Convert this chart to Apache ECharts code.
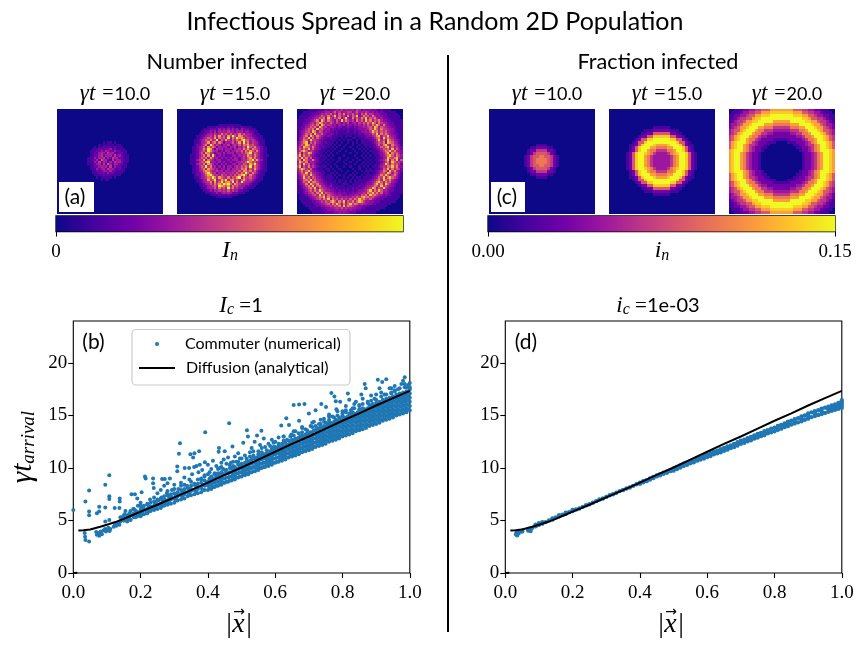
<!DOCTYPE html>
<html><head><meta charset="utf-8">
<script src="https://cdn.jsdelivr.net/npm/echarts@6/dist/echarts.min.js"></script>
<style>html,body{margin:0;padding:0;background:#fff}#c{width:865px;height:648px}</style>
</head><body><div id="c"></div>
<script>
const O='000000 000000 000000 000000 000000 000000';
const E='00000000 00000000 00000000 00000000 00000000 00000000';
const plasma=['#0d0887','#46039f','#7201a8','#9c179e','#bd3786','#d8576b','#ed7953','#fb9f3a','#fdca26','#f0f921'];
// colours of the ten levels used in the noisy "number infected" panels
const noisyLevels=['#0d0887','#46039f','#7201a8','#9c179e','#a82296','#bd3786','#d8576b','#ed7953','#fb9f3a','#f0f921'];
const ringLevels=['#0d0887','#46039f','#7201a8','#8a0da2','#9c179e','#a82296','#bd3786','#d8576b','#ed7953','#fdca26'];
const timeLabels=['10.0','15.0','20.0'];
const numberT10=[E,E,E,E,E,E,E,E,E,E,E,E,E,E,E,
"00000000 00000000 00000101 10100000 00000000 00000000",
"00000000 00000000 00010111 11011000 00000000 00000000",
"00000000 00000000 01011212 11211100 00000000 00000000",
"00000000 00000000 11122122 31211110 00000000 00000000",
"00000000 00000001 11223243 22322111 00000000 00000000",
"00000000 00000001 12134325 34212211 00000000 00000000",
"00000000 00000001 12235243 42523211 10000000 00000000",
"00000000 00000011 13243514 25342211 10000000 00000000",
"00000000 00000011 22416342 15243211 10000000 00000000",
"00000000 00000011 13252431 42534211 10000000 00000000",
"00000000 00000011 12342516 32432211 00000000 00000000",
"00000000 00000001 12234342 51322111 00000000 00000000",
"00000000 00000001 11323425 33212110 00000000 00000000",
"00000000 00000000 11212332 42211110 00000000 00000000",
"00000000 00000000 11122213 22111100 00000000 00000000",
"00000000 00000000 01111212 11111000 00000000 00000000",
"00000000 00000000 00101111 10100000 00000000 00000000",
"00000000 00000000 00001011 00000000 00000000 00000000",
E,E,E,E,E,E,E,E,E,E,E,E,E,E,E];
const numberT15=[E,E,E,E,E,E,E,
"00000000 00000000 00011111 11111000 00000000 00000000",
"00000000 00000011 11212112 12111211 11000000 00000000",
"00000000 00001112 22132323 23231322 21110000 00000000",
"00000000 00011223 24243435 34243423 32211000 00000000",
"00000000 00112234 35347464 63547463 43211100 00000000",
"00000000 01122345 37484638 59648745 43221110 00000000",
"00000000 01123465 48375649 37597864 54322110 00000000",
"00000000 11234657 45936485 36475896 64532111 00000000",
"00000000 11234583 67375243 46358495 73543211 00000000",
"00000000 12235739 63542435 24536476 85643211 00000000",
"00000001 12346385 75243342 43524364 96574321 10000000",
"00000001 12347598 42534233 32435475 84765321 10000000",
"00000001 12356497 53423243 23354637 58647421 10000000",
"00000001 12463875 42332423 34243546 79465321 10000000",
"00000011 12357483 94232312 23324354 86475321 11000000",
"00000011 12465738 53423232 32432453 68574321 10000000",
"00000011 13548375 42332223 23342354 67958431 10000000",
"00000011 12465893 33242322 32234546 97564321 10000000",
"00000011 13547386 42313232 23424365 48695321 10000000",
"00000001 12465957 34232413 32354657 59475321 10000000",
"00000001 12357486 53423324 24354768 36485321 10000000",
"00000001 12346875 43534243 34536487 57463211 10000000",
"00000001 12235796 45243534 45364759 64753211 00000000",
"00000000 12234689 64536453 53647896 37532111 00000000",
"00000000 11234576 97486547 46589375 56432110 00000000",
"00000000 01123485 69358694 78463685 45321110 00000000",
"00000000 01123457 38469578 59374954 43211100 00000000",
"00000000 00112346 47586989 64865343 32111000 00000000",
"00000000 00112234 56498768 47564332 21110000 00000000",
"00000000 00011234 46375649 57453422 11100000 00000000",
"00000000 00001123 24354546 35342211 10000000 00000000",
"00000000 00000111 22323434 32221110 00000000 00000000",
"00000000 00000001 11121212 11110000 00000000 00000000",
"00000000 00000000 00111111 10000000 00000000 00000000",
E,E,E,E,E,E,E];
const numberT20=[
"00000111 11212323 34546354 45365243 33232121 11100000",
"00011111 12233453 57463546 63574546 53423221 11111000",
"00111112 22354657 46375846 57463758 46534322 21111100",
"01111122 34576485 69475638 47693586 74853432 21111110",
"01111223 45768396 47583695 38475869 47685342 22111110",
"11112234 68397486 53749586 46385749 68476853 32211111",
"11122356 47985647 53642536 24536475 86974865 43221111",
"11123467 58397465 34243524 32435364 75869748 53221111",
"11224576 84975634 43232123 21323454 67598476 54322111",
"11235768 49675342 32121212 11223334 57697586 65432111",
"12346759 84763432 21211112 11212334 36978576 75432111",
"12357684 96574323 21211111 11112123 34769586 86432211",
"12468397 58643232 11111011 10111212 33568947 69543211",
"13476958 47532212 11101010 01101112 22357849 68653211",
"13587496 65322111 11010101 10010111 12236957 49764321",
"24689375 74321211 10101001 01010111 11235768 39875421",
"25769846 63221111 01010010 01001011 11124758 96486531",
"36498758 53212110 10100100 10010101 01123476 89574632",
"37586947 43211101 01001000 01001010 10112357 68495742",
"46897465 32111010 10010010 00100101 01111246 87968543",
"58376984 32110101 00100000 10010010 10111235 79486753",
"69486753 21111010 10000100 00100101 01011134 68975864",
"75968472 32101101 00010001 00010010 10101124 59768953",
"68397548 42111010 10010010 01001001 01011235 79486937",
"49768354 32110101 00100100 10010010 10101124 68397564",
"58496735 31101010 01000010 00100101 01011135 97486752",
"69375846 42111101 00100100 10001010 10111246 58796843",
"47986573 21110110 10010000 01001001 01011137 69485762",
"36857964 32111010 01001001 00100101 11112358 74968532",
"35769485 43211101 10100010 01010010 10112367 59847631",
"24687596 53221011 01010100 10100101 11123586 97468521",
"23596847 64321111 10100101 01011011 11234769 58976421",
"13478695 75432111 01011010 10101111 12346859 76853211",
"12476958 86432211 11010110 10111112 23468975 86743211",
"12358497 68543212 11101111 01111212 33579684 97532111",
"11246869 57854323 11111101 11112123 45687596 75432111",
"11235786 94765432 21211111 12121234 56984769 64321111",
"11124675 86976543 32121212 12123345 79586974 53221111",
"11123567 48695765 43232321 23234465 87968573 43211111",
"01112346 75968476 54343232 33454768 59786542 32211110",
"01111234 56879586 75645454 46576897 86754322 21111110",
"01111123 46758694 86757564 75869786 57432221 11111100",
"00111112 23465768 97586947 68579864 43322211 11111000",
"00011111 22345675 86974857 96875654 33221111 11100000",
"00001111 12233456 57684958 76543322 21111111 10000000",
"00000111 11122334 45657465 54433221 11111111 00000000",
"00000011 11112233 34545453 43322111 11111100 00000000",
"00000001 11111222 23343433 22211111 11110000 00000000"];
const fractionT10=[O,O,O,O,O,O,O,O,O,O,O,O,
'000000 000000 000011 110000 000000 000000',
'000000 000000 001122 221100 000000 000000',
'000000 000000 012244 442210 000000 000000',
'000000 000000 012455 554210 000000 000000',
'000000 000000 124556 655421 000000 000000',
'000000 000000 124566 665421 000000 000000',
'000000 000000 124566 665421 000000 000000',
'000000 000000 124556 655421 000000 000000',
'000000 000000 012455 554210 000000 000000',
'000000 000000 012244 442210 000000 000000',
'000000 000000 001122 221100 000000 000000',
'000000 000000 000011 110000 000000 000000',
O,O,O,O,O,O,O,O,O,O,O,O];
const fractionT15=[O,O,O,O,O,O,
'000000 000000 000111 111000 000000 000000',
'000000 000000 111222 222111 000000 000000',
'000000 000001 122555 555221 100000 000000',
'000000 000012 255888 888552 210000 000000',
'000000 000125 588999 999885 521000 000000',
'000000 001255 899999 999998 552100 000000',
'000000 011258 999877 778999 852110 000000',
'000000 012589 997766 667799 985210 000000',
'000000 012589 976644 446679 985210 000000',
'000000 125899 876433 334678 998521 000000',
'000000 125899 764333 333467 998521 000000',
'000000 125899 764333 333467 998521 000000',
'000000 125899 764333 333467 998521 000000',
'000000 125899 764333 333467 998521 000000',
'000000 125899 876433 334678 998521 000000',
'000000 012589 976644 446679 985210 000000',
'000000 012589 997766 667799 985210 000000',
'000000 011258 999877 778999 852110 000000',
'000000 001255 899999 999998 552100 000000',
'000000 000125 588999 999885 521000 000000',
'000000 000012 255888 888552 210000 000000',
'000000 000001 122555 555221 100000 000000',
'000000 000000 111222 222111 000000 000000',
'000000 000000 000111 111000 000000 000000',
O,O,O,O,O,O];
const fractionT20=[
'001112 233445 557777 777755 544332 211100',
'011123 344557 778888 888877 755443 321110',
'112233 455778 889999 999988 877554 332211',
'112344 557889 999999 999999 988755 443211',
'123445 778899 999777 777999 998877 544321',
'233457 789999 777666 666777 999987 754332',
'234577 899977 666444 444666 779998 775432',
'345578 999766 444333 333444 667999 875543',
'345789 997664 433222 222334 466799 987543',
'457899 976643 322222 222223 346679 998754',
'457899 766432 222111 111222 234667 998754',
'578999 764322 211100 001112 223467 999875',
'578997 644322 110000 000011 223446 799875',
'578997 643221 100000 000001 122346 799875',
'789997 643221 000000 000000 122346 799987',
'789976 432210 000000 000000 012234 679987',
'789976 432210 000000 000000 012234 679987',
'789976 432210 000000 000000 012234 679987',
'789976 432210 000000 000000 012234 679987',
'789976 432210 000000 000000 012234 679987',
'789976 432210 000000 000000 012234 679987',
'789997 643221 000000 000000 122346 799987',
'578997 643221 100000 000001 122346 799875',
'578997 644322 110000 000011 223446 799875',
'578999 764322 211100 001112 223467 999875',
'457899 766432 222111 111222 234667 998754',
'457899 976643 322222 222223 346679 998754',
'345789 997664 433222 222334 466799 987543',
'345578 999766 444333 333444 667999 875543',
'234577 899977 666444 444666 779998 775432',
'233457 789999 777666 666777 999987 754332',
'123445 778899 999777 777999 998877 544321',
'112344 557889 999999 999999 988755 443211',
'112233 455778 889999 999988 877554 332211',
'011123 344557 778888 888877 755443 321110',
'001112 233445 557777 777755 544332 211100'];
const diffusionX=[0.015,0.03,0.05,0.08,0.1,0.125,0.15,0.175,0.2,0.25,0.3,0.35,0.4,0.45,0.5,0.55,0.6,0.65,0.7,0.75,0.8,0.85,0.9,0.95,1.0];
const diffusionY=[4.05,4.07,4.15,4.4,4.6,4.85,5.15,5.5,5.85,6.5,7.2,7.9,8.6,9.35,10.05,10.8,11.55,12.3,13.0,13.75,14.5,15.2,15.95,16.65,17.35];
// rows: x followed by the y values of the dots in that column
const numericalDenseB=[
[.14,4.9,5.3],[.15,5.0,5.4],[.16,5.1,5.5],[.17,5.1,5.5,5.9],[.18,5.3,5.7,6.1],[.19,5.4,5.8],[.20,5.4,5.7,6.1,6.4],[.21,5.6,6.0,6.4],[.22,5.7,6.1,6.6],[.23,5.9,6.3,6.7],[.24,6.0,6.4,6.8],[.25,6.1,6.5,7.0],[.26,6.2,6.6,7.1],[.27,6.4,6.8,7.3],[.28,6.5,6.9,7.4,7.8],[.29,6.6,7.0,7.5],[.30,6.7,7.1,7.6,8.0],[.31,6.9,7.3,7.7],[.32,7.0,7.4,7.9,8.3],[.33,7.1,7.5,8.0,8.4],[.34,7.3,7.7,8.1],[.35,7.4,7.8,8.3,8.7],[.36,7.5,7.9,8.4],[.37,7.6,8.0,8.5,8.9],[.38,7.7,8.1,8.6,9.0],[.39,7.9,8.3,8.8,9.2],
[.145,5.1],[.165,5.3],[.185,5.5,5.95],[.205,5.8,6.25],[.225,5.9,6.35],[.245,6.2,6.7],[.265,6.4,6.9],[.285,6.7,7.2],[.305,6.9,7.4],[.325,7.2,7.7],[.345,7.5,8.0],[.365,7.7,8.2],[.385,7.9,8.4],
[.40,7.9,8.3,8.7],[.41,8.0,8.4,8.8,9.2],[.42,8.2,8.6,9.0],[.43,8.3,8.7,9.1,9.5],[.44,8.4,8.8,9.2],[.45,8.6,9.0,9.4,9.8],[.46,8.7,9.1,9.5],[.47,8.8,9.2,9.6,10.0],[.48,8.9,9.3,9.7,10.1],[.49,9.1,9.5,9.9,10.3],
[.50,9.2,9.6,10.0,10.4],[.51,9.3,9.7,10.1,10.5],[.52,9.4,9.8,10.2,10.6],[.53,9.6,10.0,10.4,10.8],[.54,9.7,10.1,10.5,10.9],[.55,9.8,10.2,10.6,11.0],[.56,10.0,10.4,10.8,11.2],[.57,10.1,10.5,10.9,11.3],[.58,10.2,10.6,11.0,11.4],[.59,10.3,10.7,11.1,11.5,11.8],
[.60,10.5,10.9,11.3,11.7,12.0],[.61,10.6,11.0,11.4,11.8,12.1],[.62,10.7,11.1,11.5,11.9,12.3],[.63,10.8,11.2,11.6,12.0,12.4],[.64,11.0,11.4,11.8,12.2,12.6],[.65,11.1,11.5,11.9,12.3,12.7],[.66,11.2,11.6,12.0,12.4,12.8],[.67,11.3,11.7,12.1,12.5,12.9],[.68,11.5,11.9,12.3,12.7,13.1],[.69,11.6,12.0,12.4,12.8,13.2],
[.70,11.7,12.1,12.5,12.9,13.3],[.71,11.8,12.2,12.6,13.0,13.4],[.72,12.0,12.4,12.8,13.2,13.6],[.73,12.1,12.5,12.9,13.3,13.7],[.74,12.2,12.6,13.0,13.4,13.8],[.75,12.3,12.7,13.1,13.5,13.9,14.3],[.76,12.5,12.9,13.3,13.7,14.1,14.4],[.77,12.6,13.0,13.4,13.8,14.2],[.78,12.7,13.1,13.5,13.9,14.3,14.6],[.79,12.8,13.2,13.6,14.0,14.4,14.8],
[.80,13.0,13.4,13.8,14.2,14.6,15.0],[.81,13.1,13.5,13.9,14.3,14.7],[.82,13.2,13.6,14.0,14.4,14.8,15.2],[.83,13.3,13.7,14.1,14.5,14.9,15.3],[.84,13.5,13.9,14.3,14.7,15.1],[.85,13.6,14.0,14.4,14.8,15.2,15.6],[.86,13.7,14.1,14.5,14.9,15.3,15.7],[.87,13.8,14.2,14.6,15.0,15.4],[.88,14.0,14.4,14.8,15.2,15.6,16.0],[.89,14.1,14.5,14.9,15.3,15.7,16.1],
[.90,14.2,14.6,15.0,15.4,15.8,16.2],[.91,14.3,14.7,15.1,15.5,15.9,16.3],[.92,14.5,14.9,15.3,15.7,16.1,16.5],[.93,14.6,15.0,15.4,15.8,16.2,16.6],[.94,14.7,15.1,15.5,15.9,16.3,16.7],[.95,14.8,15.2,15.6,16.0,16.4,16.8],[.96,15.0,15.4,15.8,16.2,16.6,17.0],[.97,15.1,15.5,15.9,16.3,16.7,17.1],[.98,15.2,15.6,16.0,16.4,16.8,17.2],[.99,15.3,15.7,16.1,16.5,16.9,17.3],[1.0,15.5,15.9,16.3,16.7,17.1,17.5]];
const numericalFillB=[
[.405,8.1,8.5,8.9],[.415,8.2,8.6,9.0],[.425,8.3,8.7,9.1,9.4],[.435,8.5,8.9,9.3],[.445,8.6,9.0,9.4],[.455,8.7,9.1,9.5],[.465,8.8,9.2,9.6,10.0],[.475,9.0,9.4,9.8],[.485,9.1,9.5,9.9],[.495,9.2,9.6,10.0,10.2],
[.505,9.4,9.8,10.2],[.515,9.5,9.9,10.3,10.6],[.525,9.6,10.0,10.4,10.7],[.535,9.7,10.1,10.5,10.9],[.545,9.9,10.3,10.7,11.0],[.555,10.0,10.4,10.8,11.1],[.565,10.1,10.5,10.9,11.3],[.575,10.3,10.7,11.1,11.4],[.585,10.4,10.8,11.2,11.6],[.595,10.5,10.9,11.3,11.7],
[.605,10.6,11.0,11.4,11.8],[.615,10.8,11.2,11.6,12.0],[.625,10.9,11.3,11.7,12.1],[.635,11.0,11.4,11.8,12.2],[.645,11.2,11.6,12.0,12.4],[.655,11.3,11.7,12.1,12.5],[.665,11.4,11.8,12.2,12.6],[.675,11.5,11.9,12.3,12.7,13.0],[.685,11.7,12.1,12.5,12.9],[.695,11.8,12.2,12.6,13.0,13.3],
[.705,11.9,12.3,12.7,13.1,13.4],[.715,12.0,12.4,12.8,13.2,13.6],[.725,12.2,12.6,13.0,13.4,13.8],[.735,12.3,12.7,13.1,13.5,13.9],[.745,12.4,12.8,13.2,13.6,14.0],[.755,12.6,13.0,13.4,13.8,14.2],[.765,12.7,13.1,13.5,13.9,14.3],[.775,12.8,13.2,13.6,14.0,14.4],[.785,12.9,13.3,13.7,14.1,14.5],[.795,13.1,13.5,13.9,14.3,14.7],
[.805,13.2,13.6,14.0,14.4,14.8],[.815,13.3,13.7,14.1,14.5,14.9],[.825,13.5,13.9,14.3,14.7,15.1],[.835,13.6,14.0,14.4,14.8,15.2],[.845,13.7,14.1,14.5,14.9,15.3],[.855,13.8,14.2,14.6,15.0,15.4],[.865,14.0,14.4,14.8,15.2,15.6],[.875,14.1,14.5,14.9,15.3,15.7],[.885,14.2,14.6,15.0,15.4,15.8],[.895,14.3,14.7,15.1,15.5,15.9],
[.905,14.5,14.9,15.3,15.7,16.1],[.915,14.6,15.0,15.4,15.8,16.2],[.925,14.7,15.1,15.5,15.9,16.3],[.935,14.9,15.3,15.7,16.1,16.5],[.945,15.0,15.4,15.8,16.2,16.6],[.955,15.1,15.5,15.9,16.3,16.7],[.965,15.2,15.6,16.0,16.4,16.8],[.975,15.4,15.8,16.2,16.6,17.0],[.985,15.5,15.9,16.3,16.7,17.1],[.995,15.6,16.0,16.4,16.8,17.2]];
const numericalFringeB=[
[.405,9.0,9.6],[.42,9.4],[.43,9.9],[.44,9.6,10.1],[.455,9.8],[.465,10.3],[.475,10.2,10.6],[.49,10.6],[.5,10.4,10.9],[.515,10.9],[.525,11.1],[.535,11.2,11.6],[.55,11.3],[.56,11.5,11.9],[.575,11.7],[.585,12.1],[.595,12.0,12.4],[.61,12.3],[.625,12.6,13.0],[.635,12.7],[.645,13.0],[.655,13.1,13.5],[.67,13.3],[.68,13.4,13.8],[.695,13.6],[.71,13.9,14.3],[.72,14.0],[.735,14.2,14.6],[.745,14.4],[.76,14.6,15.1],[.775,14.8],[.785,15.0,15.4],[.8,15.2],[.81,15.5,15.9],[.825,15.5],[.835,15.7,16.1],[.85,15.9],[.86,16.1,16.6],[.875,16.2],[.885,16.4],[.9,16.5,17.0],[.915,16.8,17.2],[.93,17.0],[.945,17.2,17.6],[.955,17.4,17.8],[.97,17.6],[.985,17.7,18.0],[1.0,17.7,18.1]];
const numericalSparseB=[
[0,6.0],[.036,6.8],[.047,7.85],[.047,5.85],[.047,5.5],[.035,3.45],[.036,3.15],[.047,3.0],[.034,3.8],[.07,5.7],[.077,6.3],[.077,5.85],[.095,8.4],[.107,9.3],[.095,6.25],[.107,7.3],[.107,7.05],[.095,4.9],[.107,5.05],
[.068,3.9],[.07,3.65],[.073,3.8],[.077,3.55],[.08,3.75],[.082,3.95],[.085,3.7],[.09,4.05],[.094,4.2],[.097,3.95],[.1,4.1],[.104,4.3],[.108,4.0],[.11,4.2],[.12,4.4],[.124,4.65],[.128,4.5],[.133,4.8],[.137,4.6],[.14,4.95],[.145,5.3],
[.123,6.2],[.137,6.2],[.138,7.1],[.138,6.8],[.15,5.0],[.152,5.6],[.155,5.9],[.16,4.9],[.165,5.2],[.167,5.7],[.17,5.05],[.173,7.5],[.175,5.5],[.178,6.1],[.183,7.5],[.185,5.3],[.188,5.75],[.19,7.1],[.192,6.4],[.195,5.5],[.2,5.9],[.2,6.7],[.203,7.7],[.205,5.6],[.208,6.2],[.213,9.2],[.215,9.0],[.215,6.0],[.218,5.7],[.22,6.5],[.225,5.9],[.228,7.0],[.23,6.3],[.235,6.1],[.237,9.0],[.237,8.55],[.239,8.1],[.24,7.2],[.243,6.6],[.247,6.2],[.25,7.6],[.253,6.9],[.257,6.45],[.26,7.9],[.262,7.2],[.264,8.95],[.265,6.7],[.27,8.3],[.272,8.95],[.272,7.0],[.275,6.6],[.278,7.6],[.28,8.55],[.283,6.9],[.287,9.0],[.29,7.3],[.293,7.9],[.297,7.1],[.3,8.4],[.303,7.5],[.307,7.2],[.309,10.15],[.309,9.7],[.312,8.0],[.314,11.35],[.317,12.35],[.318,7.5],[.32,8.6],[.325,7.8],[.33,9.1],[.331,10.0],[.335,7.7],[.338,8.3],[.344,10.0],[.345,8.9],[.348,11.3],[.35,8.0],[.353,9.4],[.356,11.0],[.359,10.1],[.36,11.4],[.36,8.5],[.366,10.2],[.37,8.2],[.372,9.6],[.374,11.6],[.376,10.3],[.38,8.9],[.383,9.8],[.385,8.4],[.39,9.3],[.391,10.55],[.392,13.4],[.395,8.6],[.4,10.3],[.4,9.4],
[.41,9.9],[.415,10.7],[.42,9.5],[.425,10.2],[.432,11.55],[.433,11.9],[.435,10.0],[.44,10.5],[.445,9.9],[.447,10.8],[.45,11.6],[.455,10.4],[.46,11.0],[.463,14.27],[.468,10.5],[.473,12.05],[.48,11.1],[.485,10.6],[.49,11.4],[.495,10.9],[.505,12.4],[.51,11.2],[.516,13.6],[.519,13.0],[.525,11.5],[.53,11.9],[.539,12.5],[.546,13.1],[.55,11.6],[.555,12.2],[.559,13.55],[.566,12.8],[.57,12.0],[.58,12.3],[.59,12.7],[.6,12.5],[.61,12.9],[.618,14.05],[.625,13.0],[.633,14.75],[.641,14.1],[.648,13.2],[.655,16.0],[.66,13.5],[.671,16.05],[.671,14.5],[.68,13.9],[.687,16.1],[.69,13.7],[.70,15.2],[.705,14.0],[.715,14.4],[.72,15.5],[.73,14.2],[.737,16.1],[.745,14.7],[.751,15.8],[.76,14.9],[.767,17.15],[.776,16.8],[.77,14.9],[.78,16.35],[.782,15.6],[.793,16.3],[.80,15.4],[.81,15.3],[.816,17.1],[.82,16.5],[.83,15.7],[.84,16.3],[.85,16.0],[.856,17.0],[.866,18.0],[.869,17.6],[.875,16.3],[.885,16.9],[.895,16.6],[.905,18.4],[.91,17.6],[.918,18.2],[.925,17.0],[.93,18.45],[.94,17.6],[.945,17.1],[.955,17.3],[.965,17.5],[.975,18.0],[.98,18.3],[.985,18.65],[.99,17.7],[.995,17.9]];
const numericalD=[
[.032,3.7],[.034,3.9],[.035,3.6],[.04,3.8],[.04,4.0],[.05,3.95],[.05,4.05],[.068,4.05],[.07,4.2],[.075,4.0],[.075,4.2],[.08,4.3],[.09,4.45],[.09,4.6],[.10,4.6],[.10,4.75],[.11,4.7],[.11,4.85],[.12,4.85],[.13,5.0],[.14,5.1],[.14,5.2],[.15,5.3],[.16,5.4],[.16,5.5],[.17,5.55],[.18,5.65],[.18,5.75],[.19,5.8],[.20,5.9],[.20,6.0],[.21,6.05],[.22,6.15],[.23,6.3],[.24,6.45],[.25,6.55],[.26,6.7],[.27,6.85],[.28,7.0],[.29,7.1],[.30,7.25],[.31,7.4],[.32,7.5],[.33,7.65],[.34,7.8],[.35,7.9],[.36,8.05],[.37,8.15],[.38,8.3],[.39,8.45],
[.40,8.5],[.40,8.6],[.41,8.65],[.41,8.75],[.42,8.75],[.42,8.85],[.43,8.9],[.43,9.0],[.44,9.05],[.44,9.15],[.45,9.2],[.45,9.3],[.46,9.3],[.46,9.4],[.47,9.45],[.47,9.55],[.48,9.55],[.48,9.65],[.49,9.7],[.49,9.8],[.50,9.75],[.50,9.95],[.51,9.9],[.51,10.1],[.52,10.05],[.52,10.25],[.53,10.2],[.53,10.4],[.54,10.3],[.54,10.5],[.55,10.45],[.55,10.65],[.56,10.55],[.56,10.75],[.57,10.7],[.57,10.9],[.58,10.8],[.58,11.0],[.59,10.9],[.59,11.15],[.60,11.05],[.60,11.3],[.61,11.15],[.61,11.4],[.62,11.3],[.62,11.55],[.63,11.4],[.63,11.65],[.64,11.5],[.64,11.8],[.65,11.65],[.65,11.9],[.66,11.75],[.66,12.05],[.67,11.9],[.67,12.15],[.68,12.0],[.68,12.3],[.69,12.15],[.69,12.45],[.70,12.3],[.70,12.6],[.71,12.4],[.71,12.7],[.72,12.55],[.72,12.85],[.73,12.65],[.73,12.95],[.74,12.8],[.74,13.1],[.75,12.9],[.75,13.25],[.76,13.05],[.76,13.35],[.77,13.15],[.77,13.5],[.78,13.3],[.78,13.6],[.79,13.4],[.79,13.75],[.80,13.5],[.80,13.85],[.81,13.65],[.81,14.0],[.82,13.75],[.82,14.1],[.83,13.9],[.83,14.25],[.84,14.0],[.84,14.2],[.84,14.4],[.85,14.15],[.85,14.5],[.86,14.25],[.86,14.45],[.86,14.65],[.87,14.35],[.87,14.75],[.88,14.45],[.88,14.7],[.88,14.9],[.89,14.6],[.89,15.0],[.90,14.7],[.90,14.95],[.90,15.2],[.91,14.85],[.91,15.3],[.92,14.95],[.92,15.2],[.92,15.4],[.93,15.05],[.93,15.5],[.94,15.15],[.94,15.4],[.94,15.65],[.95,15.25],[.95,15.75],[.96,15.35],[.96,15.6],[.96,15.85],[.97,15.45],[.97,15.7],[.97,15.95],[.98,15.55],[.98,15.8],[.98,16.05],[.99,15.65],[.99,15.9],[.99,16.2],[1.0,15.75],[1.0,16.0],[1.0,16.25],[1.0,16.45]];
const yTicks=[0,5,10,15,20];

const SANS='Lato',SERIF='Liberation Serif';
const cells=rows=>{const out=[];rows.forEach((s,r)=>{s.replace(/ /g,'').split('').forEach((ch,c)=>out.push([c,r,+ch]));});return out;};
const heatRects=[[57,numberT10,noisyLevels],[177,numberT15,noisyLevels],[297,numberT20,ringLevels],[489,fractionT10,plasma],[609,fractionT15,plasma],[729,fractionT20,plasma]];
const grids=[],xAxes=[],yAxes=[],series=[];
heatRects.forEach(([left,rows,levels],i)=>{
  const idx=rows.map((_,k)=>String(k));
  grids.push({left,top:109,width:106,height:105,show:false});
  xAxes.push({type:'category',gridIndex:i,data:idx,show:false});
  yAxes.push({type:'category',gridIndex:i,data:idx,show:false,inverse:true});
  series.push({type:'custom',xAxisIndex:i,yAxisIndex:i,data:cells(rows),clip:true,silent:true,animation:false,progressive:0,
    encode:{x:0,y:1},
    renderItem:(p,api)=>{const c=api.coord([api.value(0),api.value(1)]),s=api.size([1,1]);
      return {type:'rect',shape:{x:Math.floor(c[0]-s[0]/2),y:Math.floor(c[1]-s[1]/2),width:Math.ceil(s[0])+1,height:Math.ceil(s[1])+1},style:{fill:levels[api.value(2)]}};}});
});
function colorBar(left,width,max,ticks,fmt){
  const i=grids.length;
  grids.push({left,top:216,width,height:15.5,show:true,borderColor:'#000',borderWidth:1.3});
  xAxes.push({type:'value',gridIndex:i,min:0,max,position:'bottom',
    axisLine:{show:false},splitLine:{show:false},
    axisTick:{show:true,length:5,customValues:ticks,lineStyle:{color:'#000',width:1}},
    axisLabel:{show:true,customValues:ticks,formatter:fmt,fontFamily:SERIF,fontSize:19,color:'#000',margin:11}});
  yAxes.push({type:'value',gridIndex:i,min:0,max:1,show:false});
  series.push({type:'custom',xAxisIndex:i,yAxisIndex:i,data:[[0,max]],silent:true,animation:false,
    renderItem:(p,api)=>{const a=api.coord([api.value(0),1]),b=api.coord([api.value(1),0]);
      return {type:'rect',shape:{x:a[0],y:a[1],width:b[0]-a[0],height:b[1]-a[1]},
        style:{fill:new echarts.graphic.LinearGradient(0,0,1,0,plasma.map((c,k)=>({offset:k/9,color:c})))}};}});
}
colorBar(56,347,1,[0],v=>'0');
colorBar(488,347,0.15,[0,0.15],v=>v.toFixed(2));
const tick={show:true,length:5,lineStyle:{color:'#000',width:1.1}};
function scatterPanel(left,yName,points,legendName,size){
  const i=grids.length;
  grids.push({left,top:321,width:336.5,height:252,show:true,borderColor:'#000',borderWidth:1.1,backgroundColor:'transparent'});
  xAxes.push({type:'value',gridIndex:i,min:0,max:1,interval:0.2,splitLine:{show:false},axisLine:{show:false,onZero:false},axisTick:tick,
    axisLabel:{fontFamily:SERIF,fontSize:19,color:'#000',margin:11,formatter:v=>v.toFixed(1),showMinLabel:true,showMaxLabel:true},
    name:'|x|',nameLocation:'middle',nameGap:38,nameMoveOverlap:false,nameTextStyle:{fontFamily:SERIF,fontStyle:'italic',fontSize:28,color:'#000',padding:[0,6,0,0]}});
  yAxes.push(Object.assign({type:'value',gridIndex:i,min:0,max:24,splitLine:{show:false},axisLine:{show:false,onZero:false},
    axisTick:Object.assign({customValues:yTicks},tick),
    axisLabel:{fontFamily:SERIF,fontSize:19,color:'#000',margin:6,customValues:yTicks}},
    yName?{name:yName,nameLocation:'middle',nameGap:35,nameMoveOverlap:false,nameRotate:90,nameTextStyle:{rich:{i:{fontFamily:SERIF,fontStyle:'italic',fontSize:29,color:'#000'},s:{fontFamily:SERIF,fontStyle:'italic',fontSize:19,color:'#000',padding:[10,0,0,0]}}}}:{}));
  series.push({type:'scatter',name:legendName?'Commuter (numerical)':'Numerical (d)',xAxisIndex:i,yAxisIndex:i,data:points,symbolSize:size,itemStyle:{color:'#1f77b4',opacity:1},animation:false,z:2});
  series.push({type:'line',name:'origin mark '+i,xAxisIndex:i,yAxisIndex:i,data:[[0,0],[0.012,0.03]],symbol:'none',lineStyle:{color:'#000',width:2},itemStyle:{color:'#000'},animation:false,z:3,clip:false,silent:true});
  series.push({type:'line',name:legendName?'Diffusion (analytical)':'Analytical (d)',xAxisIndex:i,yAxisIndex:i,data:diffusionX.map((x,k)=>[x,diffusionY[k]]),symbol:'none',lineStyle:{color:'#000',width:2},itemStyle:{color:'#000'},animation:false,z:3});
}
const pointsB=[];
numericalDenseB.concat(numericalFillB,numericalFringeB).forEach(r=>r.slice(1).forEach(y=>pointsB.push([r[0],y])));
numericalSparseB.forEach(p=>pointsB.push(p));
scatterPanel(73.3,'{i|γt}{s|arrival}',pointsB,true,4);
scatterPanel(505.3,null,numericalD,false,4.4);

const txt=(text,x,y,size,extra)=>({type:'text',z:10,style:Object.assign({text,x,y,align:'center',verticalAlign:'middle',fontFamily:SANS,fontSize:size,fill:'#000'},extra||{})});
const gt=(x,label)=>txt('{a|γt}{b|=}{c|'+label+'}',x,94,17,{rich:{a:{fontFamily:SERIF,fontStyle:'italic',fontSize:23,padding:[0,7,0,0]},b:{fontFamily:SERIF,fontSize:20,padding:[0,1,0,0]},c:{fontFamily:SANS,fontSize:18}}});
const sub=(x,sym,val)=>txt('{a|'+sym+'}{s|c}{b| =}{c|'+val+'}',x,306,20,{rich:{a:{fontFamily:SERIF,fontStyle:'italic',fontSize:23},s:{fontFamily:SERIF,fontStyle:'italic',fontSize:16,padding:[8,0,0,0]},b:{fontFamily:SERIF,fontSize:21},c:{fontFamily:SANS,fontSize:20}}});
const barName=(x,sym)=>txt('{a|'+sym+'}{s|n}',x,251,23,{rich:{a:{fontFamily:SERIF,fontStyle:'italic',fontSize:24},s:{fontFamily:SERIF,fontStyle:'italic',fontSize:16,padding:[9,0,0,0]}}});
const whiteBox=(x,w)=>({type:'rect',z:9,shape:{x,y:182,width:w,height:30},style:{fill:'#fff'}});
const graphic=[
  txt('Infectious Spread in a Random 2D Population',435,22,25),
  txt('Number infected',227,62,21.7),
  txt('Fraction infected',658,62,21.7),
  gt(115,timeLabels[0]),gt(235,timeLabels[1]),gt(355,timeLabels[2]),
  gt(547,timeLabels[0]),gt(667,timeLabels[1]),gt(787,timeLabels[2]),
  barName(230,'I'),barName(662,'i'),
  whiteBox(59,35),whiteBox(491,34),
  txt('(a)',75,197.5,21),txt('(c)',507,197.5,21),
  txt('(b)',93.5,342,21),txt('(d)',526,342,21),
  sub(241,'I','1'),sub(658,'i','1e-03'),
  txt('→',239,612,14,{fontFamily:'DejaVu Sans'}),txt('→',671,612,14,{fontFamily:'DejaVu Sans'}),
  {type:'line',z:10,shape:{x1:448,y1:55,x2:448,y2:632},style:{stroke:'#000',lineWidth:2}},
  {type:'rect',z:3,shape:{x:132,y:329.5,width:218,height:55.5,r:4},style:{fill:'rgba(255,255,255,0.8)',stroke:'#ccc',lineWidth:1.2}}
];
const legendText={fontFamily:SANS,fontSize:16,color:'#000'};
const chart=echarts.init(document.getElementById('c'),null,{renderer:'canvas'});
chart.setOption({animation:false,backgroundColor:'#fff',tooltip:{show:false},
  grid:grids,xAxis:xAxes,yAxis:yAxes,series,graphic,
  legend:[
   {left:155,top:336,padding:0,itemWidth:46,itemHeight:4,itemGap:0,data:[{name:'Commuter (numerical)',icon:'circle'}],textStyle:legendText,selectedMode:false,z:5},
   {left:138,top:360,padding:0,itemWidth:36,itemHeight:2,itemGap:0,data:[{name:'Diffusion (analytical)'}],textStyle:Object.assign({padding:[0,0,0,6]},legendText),selectedMode:false,z:5}
  ]});
</script></body></html>
